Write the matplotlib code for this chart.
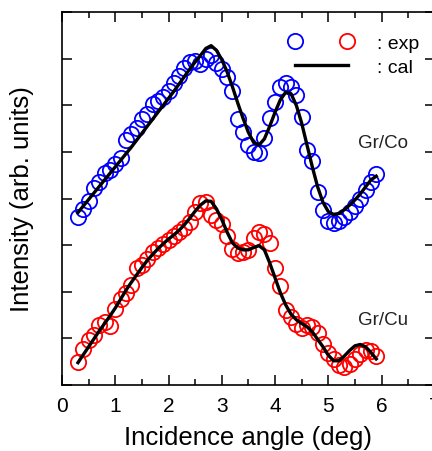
import numpy as np
import matplotlib.pyplot as plt
from matplotlib.legend_handler import HandlerTuple
from matplotlib.ticker import MultipleLocator

plt.rcParams['font.family'] = ['Liberation Sans', 'DejaVu Sans']

# угол падения (deg), шаг 0.1
angle = np.round(np.arange(0.3, 5.95, 0.1), 2)

# Gr/Co
co_exp = [3.60, 3.78, 3.95, 4.22, 4.35, 4.55, 4.62, 4.74, 4.88, 5.25,
          5.38, 5.52, 5.70, 5.82, 6.02, 6.10, 6.18, 6.30, 6.48, 6.62,
          6.80, 6.92, 6.95, 6.88, 7.00, 7.08, 6.90, 6.78, 6.60, 6.30,
          5.70, 5.42, 5.15, 5.00, 4.98, 5.30, 5.72, 6.08, 6.40, 6.48,
          6.40, 6.22, 5.76, 5.05, 4.80, 4.15, 3.75, 3.52, 3.48, 3.52,
          3.60, 3.72, 3.85, 4.00, 4.18, 4.35, 4.52]
co_cal = [3.70, 3.84, 3.98, 4.12, 4.26, 4.40, 4.54, 4.68, 4.82, 4.96,
          5.10, 5.25, 5.40, 5.55, 5.70, 5.85, 6.00, 6.15, 6.30, 6.46,
          6.62, 6.78, 6.93, 7.07, 7.22, 7.28, 7.18, 6.98, 6.72, 6.40,
          6.05, 5.72, 5.42, 5.20, 5.15, 5.28, 5.55, 5.85, 6.12, 6.28,
          6.25, 6.00, 5.62, 5.15, 4.68, 4.25, 3.92, 3.72, 3.66, 3.68,
          3.76, 3.86, 3.97, 4.10, 4.25, 4.40, 4.48]

# Gr/Cu
cu_exp = [0.49, 0.78, 0.96, 1.08, 1.28, 1.35, 1.26, 1.62, 1.85, 1.98,
          2.15, 2.50, 2.58, 2.70, 2.85, 2.95, 3.02, 3.12, 3.20, 3.28,
          3.36, 3.50, 3.72, 3.90, 3.92, 3.65, 3.55, 3.45, 3.20, 2.92,
          2.84, 2.86, 2.90, 3.15, 3.28, 3.25, 3.05, 2.50, 2.12, 1.60,
          1.45, 1.30, 1.22, 1.28, 1.25, 1.12, 0.88, 0.68, 0.55, 0.42,
          0.38, 0.45, 0.55, 0.66, 0.76, 0.72, 0.62]
cu_cal = [0.48, 0.65, 0.82, 0.99, 1.16, 1.32, 1.48, 1.65, 1.84, 2.03,
          2.20, 2.36, 2.52, 2.67, 2.80, 2.92, 3.03, 3.13, 3.22, 3.32,
          3.44, 3.58, 3.73, 3.86, 3.95, 3.94, 3.78, 3.55, 3.28, 3.05,
          2.94, 2.90, 2.90, 2.95, 2.99, 2.90, 2.62, 2.30, 1.98, 1.72,
          1.52, 1.40, 1.32, 1.25, 1.14, 0.98, 0.82, 0.64, 0.52, 0.52,
          0.62, 0.74, 0.84, 0.87, 0.82, 0.70, 0.56]

fig = plt.figure(figsize=(4.32, 4.52), dpi=100)
ax = fig.add_axes([0.1435, 0.146, 0.863, 0.825])

mk = dict(marker='o', ls='none', ms=11, mfc='none', mew=1.3)
h_co, = ax.plot(angle, co_exp, mec='#0000ff', **mk)
h_cu, = ax.plot(angle, cu_exp, mec='#ff0000', **mk)
h_cal, = ax.plot(angle, co_cal, color='black', lw=2.4)
ax.plot(angle, cu_cal, color='black', lw=2.4)

ax.text(6.02, 5.2, 'Gr/Co', fontsize=13.5, ha='center', va='center', color='#222222')
ax.text(6.02, 1.41, 'Gr/Cu', fontsize=13.5, ha='center', va='center', color='#222222')

ax.legend([(h_co, h_cu), h_cal], [': exp', ': cal'],
          handler_map={tuple: HandlerTuple(ndivide=None, pad=2.6)},
          handlelength=2.7, frameon=False, fontsize=14, loc='upper left',
          bbox_to_anchor=(0.625, 0.94), labelspacing=0.3, handletextpad=1.5,
          borderaxespad=0, borderpad=0)

ax.set_xlim(0, 7)
ax.set_ylim(0, 8)
ax.xaxis.set_major_locator(MultipleLocator(1))
ax.xaxis.set_minor_locator(MultipleLocator(0.5))
ax.yaxis.set_major_locator(MultipleLocator(1))
ax.set_yticklabels([])
ax.tick_params(which='both', direction='in', top=True, right=True, width=1.1)
ax.tick_params(which='major', length=7)
ax.tick_params(which='minor', length=4)
ax.tick_params(axis='x', labelsize=15, pad=8)
for s in ax.spines.values():
    s.set_linewidth(1.2)

ax.set_xlabel('Incidence angle (deg)', fontsize=18.5, labelpad=7)
ax.set_ylabel('Intensity (arb. units)', fontsize=18.5, labelpad=17)

fig.savefig('out.png', dpi=100)
